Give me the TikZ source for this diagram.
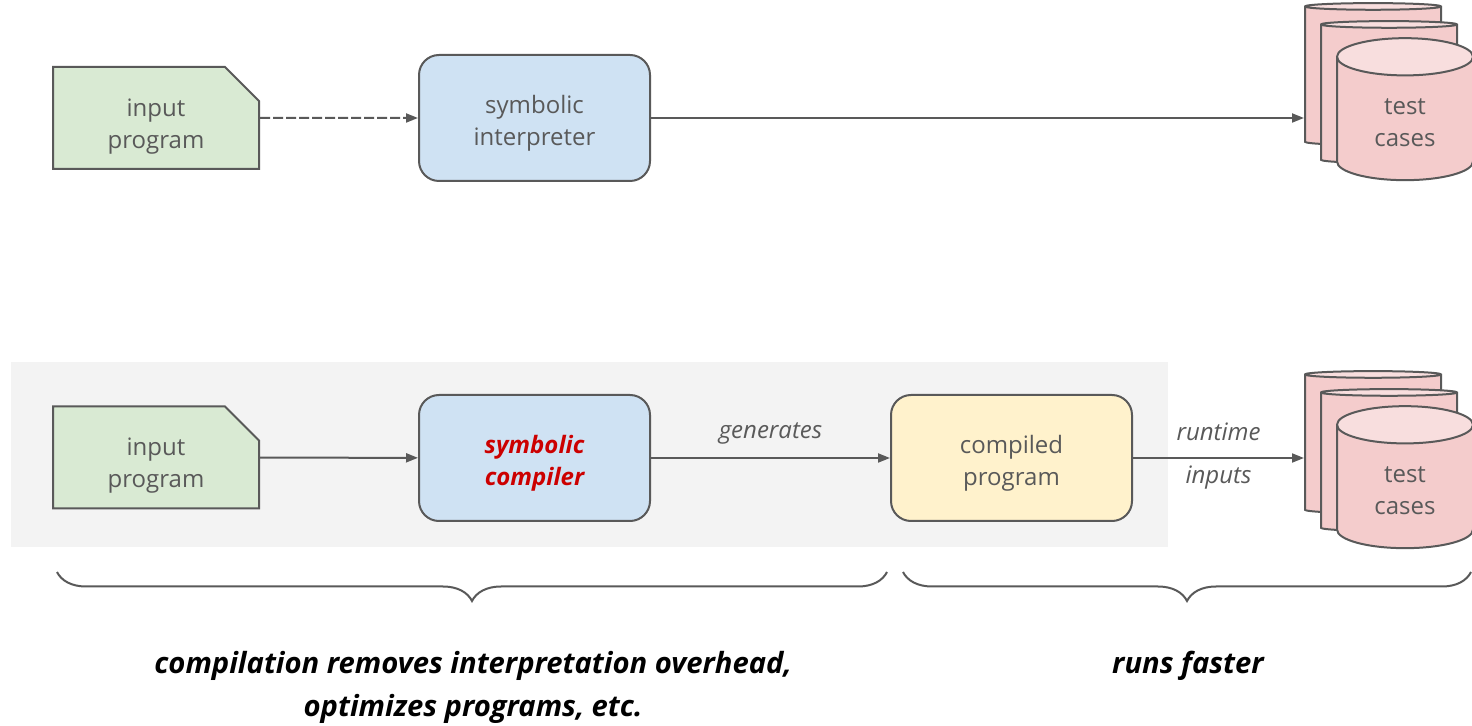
\documentclass[tikz,border=0pt]{standalone}
\usepackage{fontspec}
\setmainfont{Open Sans}
\usetikzlibrary{arrows.meta,shapes.geometric,shapes.misc,decorations.pathreplacing}
\definecolor{LineGray}{HTML}{595959}
\definecolor{ProgGreen}{HTML}{D9EAD3}
\definecolor{ToolBlue}{HTML}{CFE2F3}
\definecolor{BinYellow}{HTML}{FFF2CC}
\definecolor{CaseRed}{HTML}{F4CCCC}
\definecolor{CaseTop}{HTML}{F8DEDE}
\definecolor{PanelGray}{HTML}{F3F3F3}
\definecolor{KeyRed}{HTML}{CC0000}
% pushes a two-line label a little lower inside its box
\newcommand{\lift}[1]{\rule{0pt}{#1}}
\tikzset{
  doc/.style={chamfered rectangle,chamfered rectangle corners=north east,
    chamfered rectangle xsep=8.5pt,chamfered rectangle ysep=8.5pt,inner ysep=1pt,
    fill=ProgGreen,draw=LineGray,line width=1pt,minimum width=103pt,minimum height=51pt,
    align=center,text=LineGray,font=\fontsize{12}{16}\selectfont},
  tool/.style={rectangle,rounded corners=10pt,draw=LineGray,line width=1pt,fill=ToolBlue,
    minimum width=115.5pt,minimum height=63pt,align=center,text=LineGray,
    font=\fontsize{12}{16}\selectfont},
  dbase/.style={cylinder,shape border rotate=90,aspect=0.5,draw=LineGray,line width=1pt,
    cylinder uses custom fill,cylinder body fill=CaseRed,cylinder end fill=CaseTop,
    minimum width=68pt,minimum height=71pt,align=center,text=LineGray,
    font=\fontsize{12}{16}\selectfont},
  flow/.style={-{Triangle[length=6pt,width=4.5pt]},LineGray,line width=1pt},
  tag/.style={text=LineGray,font=\itshape\fontsize{12}{16}\selectfont},
  caption/.style={font=\bfseries\itshape\fontsize{14.6}{21.5}\selectfont,align=center},
  curly/.style={decorate,decoration={brace,mirror,amplitude=14.5pt},LineGray,line width=1pt}
}

\begin{document}
\begin{tikzpicture}[x=0.5pt,y=-0.5pt]
  \useasboundingbox (0,0) rectangle (1472,726);
  % interpreter row
  \node[doc] (progA) at (156,118) {\lift{14.5pt}input\\\smash{program}};
  \node[tool] (interp) at (534.5,118) {\lift{14pt}symbolic\\interpreter};
  \node[dbase] (tcaseA) at (1373,77) {};
  \node[dbase] (tcaseB) at (1389,95) {};
  \node[dbase] (tcaseC) at (1405,123) {test\\cases};
  \draw[flow,dash pattern=on 5pt off 1.5pt] (progA) -- (interp);
  \draw[flow] (interp.east) -- (interp.east -| tcaseA.west);

  % compiler row
  \fill[PanelGray] (11,362) rectangle (1168,547);
  \node[doc] (progB) at (156,457.5) {\lift{14.5pt}input\\\smash{program}};
  \node[tool,text=KeyRed,font=\bfseries\itshape\fontsize{12}{16}\selectfont] (comp) at (534.5,458) {\lift{14pt}symbolic\\compiler};
  \node[tool,fill=BinYellow,minimum width=120.5pt] (binary) at (1011.5,458) {\lift{14pt}compiled\\program};
  \node[dbase] (tcaseD) at (1373,445) {};
  \node[dbase] (tcaseE) at (1389,463) {};
  \node[dbase] (tcaseF) at (1405,491) {test\\cases};
  \draw[flow] (progB) -- (comp);
  \draw[flow] (comp) -- node[tag,above=3pt] {generates} (binary);
  \draw[flow] (binary.east) -- node[tag,above=5pt] {runtime} node[tag,below=0pt] {inputs} (binary.east -| tcaseD.west);

  \draw[curly] (57,572) -- (887,572);
  \draw[curly] (903,572) -- (1471,572);
  \node[caption] (gain) at (473,687) {compilation removes interpretation overhead,\\optimizes programs, etc.};
  \node[caption] (speed) at (1188,666) {runs faster};
\end{tikzpicture}
\end{document}
